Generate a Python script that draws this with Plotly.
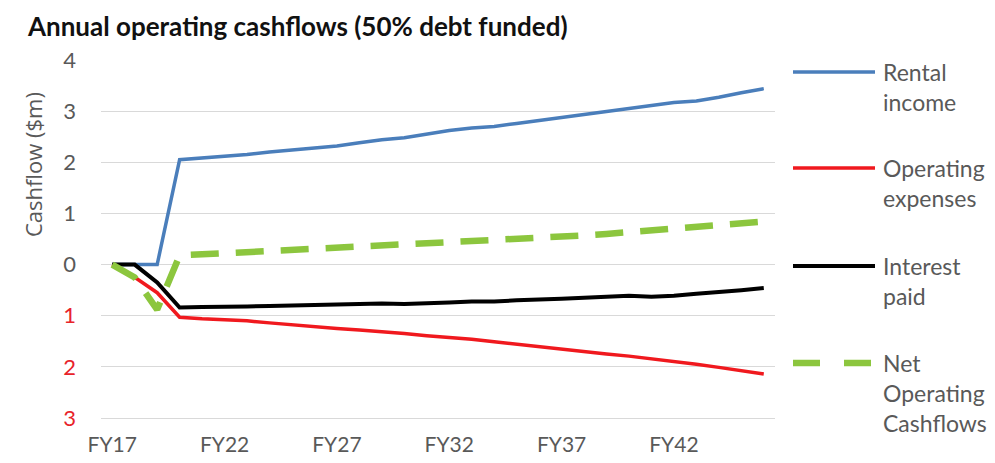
import plotly.graph_objects as go

# Financial years on the category axis
years = [f"FY{y}" for y in range(17, 47)]

# Values ($m)
rental_income = [0, 0, 0, 2.05, 2.08, 2.12, 2.15, 2.20, 2.24, 2.28,
                 2.32, 2.38, 2.44, 2.48, 2.55, 2.62, 2.67, 2.70, 2.76, 2.82,
                 2.88, 2.94, 3.00, 3.06, 3.12, 3.17, 3.20, 3.27, 3.36, 3.44]
operating_expenses = [0, -0.25, -0.55, -1.03, -1.06, -1.08, -1.10, -1.14, -1.18, -1.22,
                      -1.25, -1.28, -1.31, -1.35, -1.39, -1.42, -1.46, -1.51, -1.56, -1.61,
                      -1.65, -1.70, -1.75, -1.79, -1.84, -1.89, -1.95, -2.01, -2.08, -2.14]
interest_paid = [0, 0, -0.35, -0.84, -0.83, -0.83, -0.82, -0.81, -0.80, -0.79,
                 -0.78, -0.77, -0.76, -0.77, -0.76, -0.74, -0.72, -0.72, -0.70, -0.69,
                 -0.67, -0.65, -0.63, -0.61, -0.63, -0.61, -0.57, -0.54, -0.50, -0.46]
net_cashflows = [0, -0.25, -0.88, 0.18, 0.20, 0.22, 0.24, 0.26, 0.28, 0.30,
                 0.32, 0.34, 0.36, 0.38, 0.40, 0.42, 0.44, 0.46, 0.48, 0.51,
                 0.54, 0.57, 0.60, 0.63, 0.66, 0.69, 0.72, 0.75, 0.79, 0.84]

y_ticks = [-3, -2, -1, 0, 1, 2, 3, 4]
y_labels = ["<span style='color:#E8232A'>3</span>", "<span style='color:#E8232A'>2</span>",
            "<span style='color:#E8232A'>1</span>", "0", "1", "2", "3", "4"]

FONT = "Lato, 'Open Sans', sans-serif"
GREY = "#595959"
GRID = "#D9D9D9"
BLUE = "#4A7EBB"
RED = "#F0191E"
BLACK = "#000000"
GREEN = "#8CC63E"

# the page body adds an 8px margin, so work in window pixels and shift back
OFF = 8
W, H = 995 - OFF, 463 - OFF
L, R, T, B = 101 - OFF, 775 - OFF, 60 - OFF, 418 - OFF


def px(x):
    return (x - OFF - L) / (R - L)


def py(y):
    return (B - (y - OFF)) / (B - T)


fig = go.Figure()
fig.add_trace(go.Scatter(x=years, y=rental_income, mode="lines", name="Rental income",
                         line=dict(color=BLUE, width=3.5)))
fig.add_trace(go.Scatter(x=years, y=operating_expenses, mode="lines", name="Operating expenses",
                         line=dict(color=RED, width=3.5)))
fig.add_trace(go.Scatter(x=years, y=interest_paid, mode="lines", name="Interest paid",
                         line=dict(color=BLACK, width=4)))
fig.add_trace(go.Scatter(x=years, y=net_cashflows, mode="lines", name="Net Operating Cashflows",
                         line=dict(color=GREEN, width=6.5, dash="28px,17px")))

# legend drawn by hand to match the wide, spaced-out original
legend = [
    ("Rental<br>income", BLUE, 3.5, "solid", 72),
    ("Operating<br>expenses", RED, 3.5, "solid", 168),
    ("Interest<br>paid", BLACK, 4, "solid", 266),
    ("Net<br>Operating<br>Cashflows", GREEN, 6.5, "27px,24px", 363),
]
for text, color, width, dash, ypix in legend:
    fig.add_shape(type="line", xref="paper", yref="paper",
                  x0=px(793), x1=px(875), y0=py(ypix), y1=py(ypix),
                  line=dict(color=color, width=width, dash=dash))
    fig.add_annotation(xref="paper", yref="paper", x=px(881), y=py(ypix - 16),
                       xanchor="left", yanchor="top", align="left", showarrow=False,
                       text=text, font=dict(family=FONT, size=23, color=GREY))

fig.add_annotation(xref="paper", yref="paper", x=px(33), y=py(165),
                   xanchor="center", yanchor="middle",
                   text="Cashflow ($m)", textangle=-90, showarrow=False,
                   font=dict(family="'Open Sans', sans-serif", size=22, color=GREY))

fig.update_layout(
    width=W, height=H,
    margin=dict(l=L, r=W - R, t=T, b=H - B),
    paper_bgcolor="white", plot_bgcolor="white",
    showlegend=False,
    title=dict(text="<b>Annual operating cashflows (50% debt funded)</b>",
               x=(28 - OFF) / W, xanchor="left", y=1 - (27 - OFF) / H, yanchor="middle",
               font=dict(family=FONT, size=26, color="#111111")),
    font=dict(family=FONT, color=GREY),
)
fig.update_xaxes(type="category", range=[-0.5, 29.5], tickmode="array",
                 tickvals=years[::5], ticktext=years[::5], automargin=False,
                 showgrid=False, zeroline=False, showline=True, linecolor=GRID, linewidth=1,
                 tickfont=dict(family=FONT, size=21, color=GREY), ticklabelstandoff=8)
fig.update_yaxes(range=[-3, 4], tickmode="array", tickvals=y_ticks, ticktext=y_labels,
                 automargin=False, showgrid=True, gridcolor=GRID, gridwidth=1,
                 zeroline=False, showline=False,
                 tickfont=dict(family=FONT, size=22, color=GREY), ticklabelstandoff=24)

fig.write_html("out.html")
